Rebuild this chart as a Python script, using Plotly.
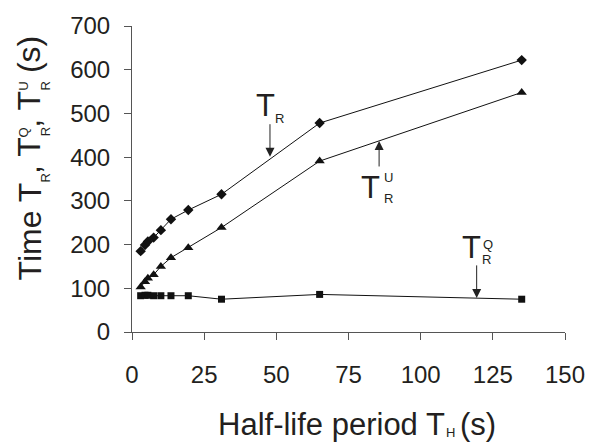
import plotly.graph_objects as go

# ---- data ----
half_life = [3, 4.5, 5.5, 7.5, 10, 13.5, 19.5, 31, 65, 135]
t_r = [185, 199, 207, 216, 233, 258, 279, 315, 478, 622]
t_r_u = [103, 115, 123, 131, 150, 170, 193, 239, 391, 548]
t_r_q = [83, 84, 84, 83, 83, 83, 83, 75, 86, 75]

x_ticks = [0, 25, 50, 75, 100, 125, 150]
y_ticks = [0, 100, 200, 300, 400, 500, 600, 700]

FONT = "Liberation Sans, Arial, Helvetica, sans-serif"
TXT = "#231f20"
AX = "#555555"
W, H = 597, 443
L, R, T, B = 132, 29, 18, 111
PW, PH = W - L - R, H - T - B


def px(x):
    return (x - L) / PW


def py(y):
    return (H - B - y) / PH


fig = go.Figure()
fig.add_trace(go.Scatter(x=half_life, y=t_r, mode="lines+markers",
                         line=dict(color="#111111", width=1),
                         marker=dict(symbol="diamond", size=8, color="#111111")))
fig.add_trace(go.Scatter(x=half_life, y=t_r_u, mode="lines+markers",
                         line=dict(color="#111111", width=1),
                         marker=dict(symbol="triangle-up", size=9, color="#111111")))
fig.add_trace(go.Scatter(x=half_life, y=t_r_q, mode="lines+markers",
                         line=dict(color="#111111", width=1),
                         marker=dict(symbol="square", size=7, color="#111111")))

ann = []


def txt(text, x, y, size, angle=0):
    ann.append(dict(text=text, x=px(x), y=py(y), xref="paper", yref="paper",
                    showarrow=False, xanchor="center", yanchor="middle",
                    textangle=angle, font=dict(family=FONT, size=size, color=TXT)))


def arrow(xd, yd, ay):
    ann.append(dict(text="", x=xd, y=yd, xref="x", yref="y", ax=0, ay=ay,
                    showarrow=True, arrowhead=2, arrowsize=1.8, arrowwidth=1,
                    arrowcolor="#222222"))


# x-axis title
txt("Half-life period T", 333, 427.3, 31)
txt("H", 453, 435.5, 13)
txt("(s)", 480, 427.3, 31)

# y-axis title (rotated pieces)
txt("Time T", 28.9, 229.2, 32, -90)
txt("R", 44.5, 174.4, 13, -90)
txt(", T", 28.9, 150.7, 32, -90)
txt("Q", 22.6, 127.0, 13, -90)
txt("R", 44.5, 127.0, 13, -90)
txt(", T", 28.9, 103.3, 32, -90)
txt("U", 22.6, 80.0, 13, -90)
txt("R", 44.5, 80.0, 13, -90)
txt(" (s)", 28.9, 52.2, 32, -90)

# in-plot labels
txt("T", 266.5, 99.3, 31)
txt("R", 281, 112.5, 13)
arrow(47.8, 401, -34)

txt("T", 372, 183.3, 31)
txt("U", 390, 173.5, 13)
txt("R", 390.5, 195.5, 13)
arrow(85.6, 437, 27)

txt("T", 473.5, 245.3, 31)
txt("Q", 490, 242.5, 13)
txt("R", 489, 257.5, 13)
arrow(119.4, 78, -34)

fig.update_layout(
    width=W, height=H,
    margin=dict(l=L, r=R, t=T, b=B),
    paper_bgcolor="white", plot_bgcolor="white",
    showlegend=False,
    annotations=ann,
    font=dict(family=FONT, color=TXT),
)
fig.update_xaxes(range=[0, 150], tickvals=x_ticks, ticks="outside", ticklen=7,
                 tickcolor=AX, linecolor=AX, linewidth=1, showline=True,
                 showgrid=False, zeroline=False, ticklabelstandoff=14,
                 tickfont=dict(family=FONT, size=24, color=TXT))
fig.update_yaxes(range=[0, 700], tickvals=y_ticks, ticks="outside", ticklen=7,
                 tickcolor=AX, linecolor=AX, linewidth=1, showline=True,
                 showgrid=False, zeroline=False, ticklabelstandoff=9,
                 tickfont=dict(family=FONT, size=24, color=TXT))

fig.write_html("out.html",
               config={"displayModeBar": False},
               post_script="document.body.style.margin='0';"
                           "document.body.style.overflow='hidden';")
